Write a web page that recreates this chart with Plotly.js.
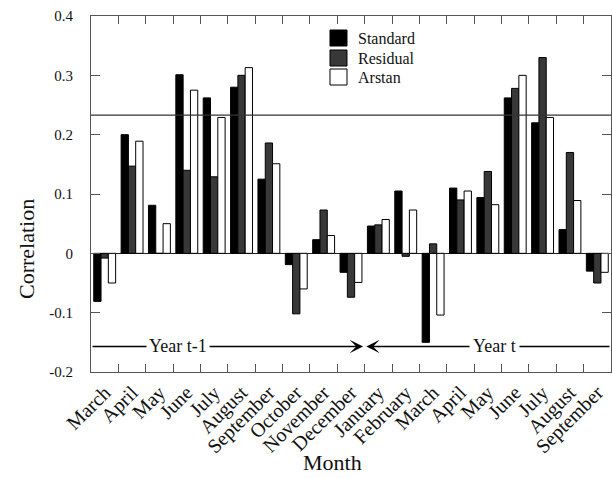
<!DOCTYPE html>
<html>
<head>
<meta charset="utf-8">
<script src="https://cdn.plot.ly/plotly-3.0.1.min.js"></script>
<style>html,body{margin:0;padding:0;background:#fff}#chart{width:612px;height:478px}</style>
</head>
<body>
<div id="chart"></div>
<script>
// ---- data ----
var months = ['March','April','May','June','July','August','September','October','November','December',
              'January','February','March','April','May','June','July','August','September'];
var standard = [-0.081, 0.200, 0.081, 0.301, 0.262, 0.280, 0.125, -0.019, 0.023, -0.032,
                 0.046, 0.105, -0.150, 0.110, 0.094, 0.262, 0.220, 0.040, -0.030];
var residual = [-0.008, 0.147, 0.000, 0.140, 0.129, 0.300, 0.186, -0.102, 0.073, -0.074,
                 0.048, -0.005, 0.016, 0.090, 0.138, 0.278, 0.330, 0.170, -0.050];
var arstan   = [-0.050, 0.189, 0.050, 0.275, 0.229, 0.313, 0.151, -0.060, 0.030, -0.049,
                 0.057, 0.073, -0.104, 0.105, 0.082, 0.300, 0.229, 0.089, -0.032];
var seriesNames = ['Standard', 'Residual', 'Arstan'];
var seriesColors = ['#000', '#383838', '#fff'];
var yTickVals = [-0.2, -0.1, 0, 0.1, 0.2, 0.3, 0.4];
var yTickText = ['-0.2', '-0.1', '0', '0.1', '0.2', '0.3', '0.4'];
var significance = 0.233;
var periodLabels = ['Year t-1', 'Year t'];

// ---- build ----
var idx = months.map(function(_, i){ return i; });
var bounds = months.slice(1).map(function(_, i){ return i + 0.5; });
var serif = 'Liberation Serif';
var frame = '#555';
var txt = '#111';

var values = [standard, residual, arstan];
var traces = values.map(function(v, k){
  return {type:'bar', name:seriesNames[k], x:idx, y:v, showlegend:false,
          marker:{color:seriesColors[k], line:{color:'#000', width:1}}};
});

// hand-placed legend (paper coordinates)
var legShapes = [], legAnn = [];
var legTop = [0.9607, 0.9045, 0.8511];
seriesNames.forEach(function(n, k){
  legShapes.push({type:'rect', xref:'paper', yref:'paper', x0:0.4596, x1:0.4923,
                  y0:legTop[k] - 0.045, y1:legTop[k],
                  fillcolor:seriesColors[k], line:{color:'#000', width:1}});
  legAnn.push({text:n, xref:'paper', yref:'paper', x:0.5096, y:legTop[k] - 0.0225,
               xanchor:'left', yanchor:'middle', showarrow:false,
               font:{family:serif, size:16, color:txt}});
});

var yArrow = -0.157;
var layout = {
  width:612, height:478,
  margin:{l:91, r:1, t:16, b:106},
  paper_bgcolor:'#fff', plot_bgcolor:'#fff',
  font:{family:serif, color:txt, size:15},
  barmode:'group', bargap:0.2, bargroupgap:0,
  showlegend:false,
  xaxis:{type:'linear', range:[-0.5, months.length - 0.5], tickmode:'array',
         tickvals:idx, ticktext:months, tickangle:-45, ticks:'',
         showline:true, linecolor:frame, linewidth:1, mirror:'ticks',
         showgrid:false, zeroline:false, tickfont:{family:serif, size:20, color:txt},
         minor:{tickmode:'array', tickvals:bounds, ticks:'inside', ticklen:8, tickcolor:frame, tickwidth:1, showgrid:false}},
  yaxis:{range:[-0.2, 0.4], tickmode:'array', tickvals:yTickVals, ticktext:yTickText,
         ticks:'inside', ticklen:9, tickcolor:frame, tickwidth:1,
         showline:true, linecolor:frame, linewidth:1, mirror:'ticks',
         showgrid:false, zeroline:true, zerolinecolor:'#222', zerolinewidth:1.2,
         ticklabelstandoff:14, tickfont:{family:serif, size:15, color:txt}},
  shapes:[{type:'line', xref:'paper', x0:0, x1:1, yref:'y', y0:significance, y1:significance,
           line:{color:'#333', width:1.3}}].concat(legShapes),
  annotations:[
    {text:'Correlation', xref:'paper', yref:'paper', x:-0.125, y:0.3455, textangle:-90,
     xanchor:'center', yanchor:'middle', showarrow:false, font:{family:serif, size:22, color:txt}},
    {text:'Month', xref:'paper', yref:'paper', x:0.465, y:-0.2556, xanchor:'center', yanchor:'middle',
     showarrow:false, font:{family:serif, size:22, color:txt}},
    {text:'', x:9.44, y:yArrow, xref:'x', yref:'y', axref:'x', ayref:'y', ax:-0.5, ay:yArrow,
     showarrow:true, arrowhead:3, arrowsize:1.5, arrowwidth:1.5, arrowcolor:'#000'},
    {text:'', x:9.56, y:yArrow, xref:'x', yref:'y', axref:'x', ayref:'y', ax:18.5, ay:yArrow,
     showarrow:true, arrowhead:3, arrowsize:1.5, arrowwidth:1.5, arrowcolor:'#000'},
    {text:periodLabels[0], x:2.68, y:yArrow, xref:'x', yref:'y', showarrow:false, bgcolor:'#fff',
     borderpad:2, font:{family:serif, size:18, color:txt}},
    {text:periodLabels[1], x:14.26, y:yArrow, xref:'x', yref:'y', showarrow:false, bgcolor:'#fff',
     borderpad:3, font:{family:serif, size:18, color:txt}}
  ].concat(legAnn)
};
Plotly.newPlot('chart', traces, layout, {staticPlot:true, displayModeBar:false});
</script>
</body>
</html>
